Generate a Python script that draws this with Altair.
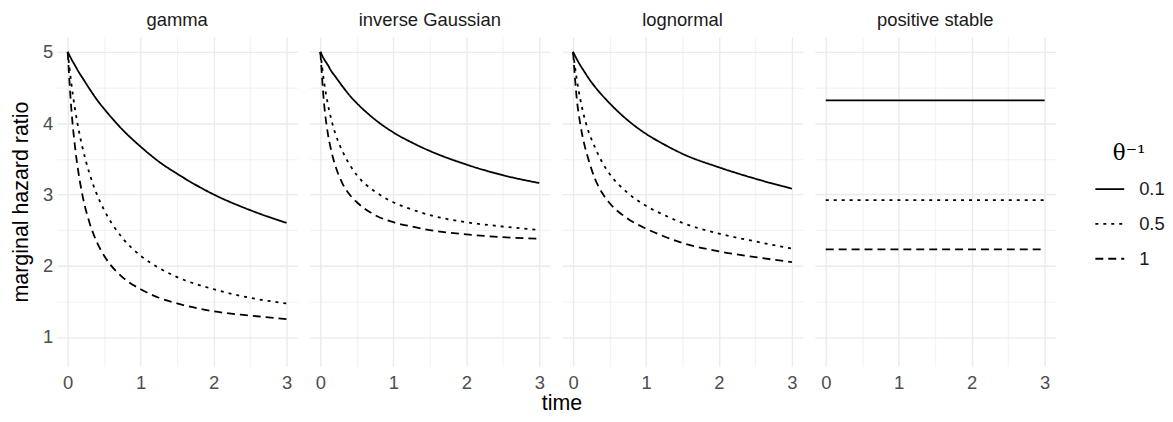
import altair as alt
import pandas as pd

families = ["gamma", "inverse Gaussian", "lognormal", "positive stable"]
thetas = ["0.1", "0.5", "1"]

times = [0, 0.05, 0.1, 0.15, 0.2, 0.3, 0.4, 0.5, 0.75, 1, 1.25, 1.5, 2, 2.5, 3]

gamma_01 = [5, 4.90, 4.81, 4.72, 4.64, 4.48, 4.33, 4.20, 3.91, 3.67, 3.46, 3.29, 3.00, 2.78, 2.60]
gamma_05 = [5, 4.56, 4.20, 3.91, 3.67, 3.29, 3.00, 2.78, 2.39, 2.14, 1.97, 1.84, 1.67, 1.55, 1.47]
gamma_1 = [5, 4.20, 3.67, 3.29, 3.00, 2.60, 2.33, 2.14, 1.84, 1.67, 1.55, 1.47, 1.36, 1.30, 1.25]

invgauss_01 = [5, 4.90, 4.82, 4.73, 4.66, 4.52, 4.39, 4.28, 4.05, 3.87, 3.73, 3.61, 3.42, 3.27, 3.16]
invgauss_05 = [5, 4.58, 4.28, 4.05, 3.87, 3.61, 3.42, 3.27, 3.04, 2.89, 2.79, 2.71, 2.61, 2.55, 2.50]
invgauss_1 = [5, 4.28, 3.87, 3.61, 3.42, 3.16, 3.00, 2.89, 2.71, 2.61, 2.55, 2.50, 2.44, 2.40, 2.38]

lognormal_01 = [5, 4.90, 4.81, 4.73, 4.65, 4.51, 4.39, 4.28, 4.04, 3.85, 3.70, 3.57, 3.38, 3.22, 3.08]
lognormal_05 = [5, 4.62, 4.33, 4.10, 3.92, 3.66, 3.45, 3.29, 3.02, 2.84, 2.71, 2.60, 2.45, 2.34, 2.24]
lognormal_1 = [5, 4.35, 3.98, 3.72, 3.53, 3.22, 3.02, 2.88, 2.66, 2.52, 2.41, 2.32, 2.20, 2.12, 2.05]

stable_times = [0, 3]
stable_01 = [4.32, 4.32]
stable_05 = [2.92, 2.92]
stable_1 = [2.23, 2.23]

series = {
    ("gamma", "0.1"): (times, gamma_01),
    ("gamma", "0.5"): (times, gamma_05),
    ("gamma", "1"): (times, gamma_1),
    ("inverse Gaussian", "0.1"): (times, invgauss_01),
    ("inverse Gaussian", "0.5"): (times, invgauss_05),
    ("inverse Gaussian", "1"): (times, invgauss_1),
    ("lognormal", "0.1"): (times, lognormal_01),
    ("lognormal", "0.5"): (times, lognormal_05),
    ("lognormal", "1"): (times, lognormal_1),
    ("positive stable", "0.1"): (stable_times, stable_01),
    ("positive stable", "0.5"): (stable_times, stable_05),
    ("positive stable", "1"): (stable_times, stable_1),
}

rows = []
for (fam, th), (ts, vs) in series.items():
    for t, v in zip(ts, vs):
        rows.append({"family": fam, "theta": th, "time": t, "hr": v})
df = pd.DataFrame(rows)

FONT = "Liberation Sans"
SMALL = 18.5
BIG = 21.5
x_vals = [0, 0.5, 1, 1.5, 2, 2.5, 3]
y_vals = [1, 1.5, 2, 2.5, 3, 3.5, 4, 4.5, 5]

grid_w = {"condition": {"test": "datum.value % 1 === 0", "value": 1.4}, "value": 0.7}
lab = "datum.value % 1 === 0 ? format(datum.value, 'd') : ''"

base = alt.Chart(df).mark_line(color="black", strokeWidth=1.8, interpolate="monotone").encode(
    x=alt.X("time:Q", title=None,
            scale=alt.Scale(domain=[-0.15, 3.15], nice=False, zero=False),
            axis=alt.Axis(values=x_vals, labelExpr=lab, domain=False, ticks=False,
                          gridWidth=grid_w, gridColor="#ebebeb", labelFontSize=SMALL,
                          labelColor="#4d4d4d", labelPadding=7, labelFont=FONT)),
    y=alt.Y("hr:Q", title="marginal hazard ratio",
            scale=alt.Scale(domain=[0.59, 5.21], nice=False, zero=False),
            axis=alt.Axis(values=y_vals, labelExpr=lab, domain=False, ticks=False,
                          gridWidth=grid_w, gridColor="#ebebeb", labelFontSize=SMALL,
                          labelColor="#4d4d4d", labelPadding=4, titlePadding=10,
                          titleFontSize=BIG, titleFontWeight="normal", titleColor="black",
                          labelFont=FONT, titleFont=FONT)),
    strokeDash=alt.StrokeDash("theta:N", title="θ⁻¹",
        scale=alt.Scale(domain=thetas, range=[[1, 0], [3, 5], [8, 5]]),
        legend=alt.Legend(orient="none", legendX=1043, legendY=107,
                          symbolType="stroke", symbolSize=841, symbolStrokeWidth=1.8,
                          symbolStrokeColor="black", labelFontSize=SMALL, labelFont=FONT,
                          labelColor="#1a1a1a", labelOffset=14, rowPadding=10,
                          titleFont="DejaVu Serif", titleFontSize=BIG, titleFontWeight="normal",
                          titleColor="black", titlePadding=9, titleAnchor="middle")),
).properties(width=242, height=331)

chart = base.facet(
    facet=alt.Facet("family:N", sort=families, title=None,
                    header=alt.Header(labelFontSize=SMALL, labelColor="#1a1a1a",
                                      labelFont=FONT, labelPadding=7, labelBaseline="top")),
    columns=4,
    spacing=12,
).properties(
    title=alt.TitleParams("time", orient="bottom", anchor="middle", fontSize=BIG,
                          fontWeight="normal", color="black", font=FONT, offset=2, dx=-26),
    padding={"top": 2, "left": 2, "right": 0, "bottom": 0},
).configure_view(
    stroke="transparent", strokeWidth=0
)

chart.save("out.html", embed_options={"renderer": "svg", "actions": False})
